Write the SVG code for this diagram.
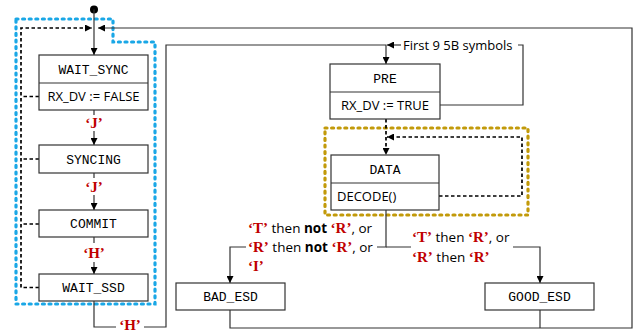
<svg xmlns="http://www.w3.org/2000/svg" width="636" height="332" viewBox="0 0 636 332">
<defs>
<marker id="ah" viewBox="0 0 8 8" refX="8" refY="4" markerWidth="7" markerHeight="7" markerUnits="userSpaceOnUse" orient="auto">
<path d="M0,0 L8,4 L0,8 Z" fill="#000"/>
</marker>
<style>
.box{fill:#fff;stroke:#333;stroke-width:1.2}
.ln{fill:none;stroke:#333;stroke-width:1.2}
.dash{fill:none;stroke:#000;stroke-width:1.7;stroke-dasharray:3.5 2.5}
.blue{fill:none;stroke:#1aa7e6;stroke-width:3.2;stroke-dasharray:2 4.6;stroke-linecap:round}
.gold{fill:none;stroke:#c29a0a;stroke-width:3.2;stroke-dasharray:2 4.6;stroke-linecap:round}
.mono{font-family:"Liberation Mono","DejaVu Sans Mono",monospace;font-size:13px;fill:#000}
.sans{font-family:"Open Sans","Liberation Sans",sans-serif;font-size:13px;fill:#000}
.red{font-family:"Liberation Serif",serif;font-weight:bold;font-size:15px;fill:#c00000}
.lbl{font-family:"Open Sans","Liberation Sans",sans-serif;font-size:13.5px;fill:#000}
.lbs{font-family:"Open Sans","Liberation Sans",sans-serif;font-size:13px;fill:#000}
</style>
</defs>
<rect width="636" height="332" fill="#fff"/>

<path class="blue" d="M16,19 H113 V42 H155 V304 H16 Z"/>
<path class="gold" d="M325,128 H528 V215 H325 Z"/>

<g id="connectors">
  <circle cx="94" cy="9.5" r="4" fill="#000"/>
  <path class="ln" d="M94,9.5 V55" marker-end="url(#ah)"/>
  <path class="dash" d="M39,287.5 H21 V28 H92" marker-end="url(#ah)"/>
  <path class="dash" d="M39,96.5 H21 M39,159 H21 M39,224 H21"/>
  <path class="ln" d="M94,110 V115 M94,131 V145" marker-end="url(#ah)"/>
  <path class="ln" d="M94,173 V178 M94,195 V210" marker-end="url(#ah)"/>
  <path class="ln" d="M94,237 V243 M94,262 V274" marker-end="url(#ah)"/>
  <path class="ln" d="M94,301 V327 H116 M144,327 H166 V45 H386 V64" marker-end="url(#ah)"/>
  <path class="ln" d="M440,105 H523 V45 H518"/>
  <path class="ln" d="M401,45 H387" marker-end="url(#ah)"/>
  <path class="dash" d="M386,119 V155" marker-end="url(#ah)"/>
  <path class="dash" d="M439,196 H522 V137 H387" marker-end="url(#ah)"/>
  <path class="ln" d="M386,210 V247 H377 M246,247 H230 V283" marker-end="url(#ah)"/>
  <path class="ln" d="M386,247 H411 M513,247 H540 V283" marker-end="url(#ah)"/>
  <path class="ln" d="M230,310 V328 H632 V28 H98" marker-end="url(#ah)"/>
  <path class="ln" d="M540,310 V328"/>
</g>

<text class="red" x="94" y="128" text-anchor="middle">‘J’</text>
<text class="red" x="94" y="192" text-anchor="middle">‘J’</text>
<text class="red" x="94" y="258" text-anchor="middle">‘H’</text>
<text class="red" x="130" y="330" text-anchor="middle">‘H’</text>
<text class="lbs" x="403" y="49.5">First 9 5B symbols</text>

<text class="lbl" x="248" y="233"><tspan class="red">‘T’</tspan> then <tspan font-weight="bold">not</tspan> <tspan class="red">‘R’</tspan>, or</text>
<text class="lbl" x="248" y="252"><tspan class="red">‘R’</tspan> then <tspan font-weight="bold">not</tspan> <tspan class="red">‘R’</tspan>, or</text>
<text class="lbl" x="248" y="271"><tspan class="red">‘I’</tspan></text>
<text class="lbl" x="412" y="242"><tspan class="red">‘T’</tspan> then <tspan class="red">‘R’</tspan>, or</text>
<text class="lbl" x="412" y="262"><tspan class="red">‘R’</tspan> then <tspan class="red">‘R’</tspan></text>

<g id="wait_sync">
  <rect class="box" x="39" y="55" width="109" height="55"/>
  <line class="ln" x1="39" y1="83" x2="148" y2="83"/>
  <text class="mono" x="93.5" y="73.5" text-anchor="middle">WAIT_SYNC</text>
  <text class="sans" x="93.5" y="101" text-anchor="middle">RX_DV := FALSE</text>
</g>
<g id="syncing">
  <rect class="box" x="39" y="145" width="109" height="28"/>
  <text class="mono" x="93.5" y="163.5" text-anchor="middle">SYNCING</text>
</g>
<g id="commit">
  <rect class="box" x="39" y="210" width="109" height="27"/>
  <text class="mono" x="93.5" y="228" text-anchor="middle">COMMIT</text>
</g>
<g id="wait_ssd">
  <rect class="box" x="39" y="274" width="109" height="27"/>
  <text class="mono" x="93.5" y="292" text-anchor="middle">WAIT_SSD</text>
</g>
<g id="pre">
  <rect class="box" x="330" y="64" width="110" height="55"/>
  <line class="ln" x1="330" y1="92" x2="440" y2="92"/>
  <text class="mono" x="385" y="82.5" text-anchor="middle">PRE</text>
  <text class="sans" x="385" y="110" text-anchor="middle">RX_DV := TRUE</text>
</g>
<g id="data">
  <rect class="box" x="331" y="155" width="108" height="55"/>
  <line class="ln" x1="331" y1="183" x2="439" y2="183"/>
  <text class="mono" x="385" y="173.5" text-anchor="middle">DATA</text>
  <text class="sans" x="337" y="201">DECODE()</text>
</g>
<g id="bad_esd">
  <rect class="box" x="176" y="283" width="109" height="27"/>
  <text class="mono" x="230.5" y="301" text-anchor="middle">BAD_ESD</text>
</g>
<g id="good_esd">
  <rect class="box" x="485" y="283" width="109" height="27"/>
  <text class="mono" x="539.5" y="301" text-anchor="middle">GOOD_ESD</text>
</g>
</svg>
